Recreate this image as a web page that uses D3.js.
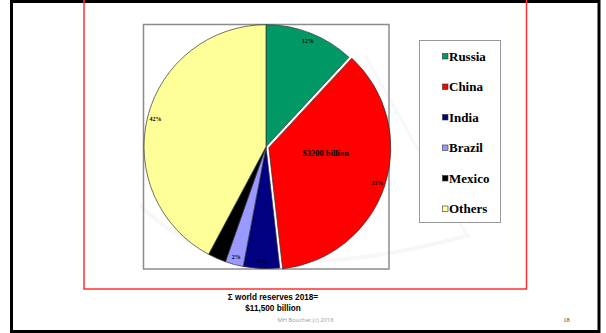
<!DOCTYPE html>
<html><head><meta charset="utf-8">
<script src="https://cdn.jsdelivr.net/npm/d3@7"></script>
<style>html,body{margin:0;padding:0;background:#fff;}svg{display:block;}
.serif{font-family:"Liberation Serif","Times New Roman",Times,serif;}
.sans{font-family:"Liberation Sans",Arial,Helvetica,sans-serif;}
.credit{font-family:"Open Sans","Liberation Sans",sans-serif;}
</style>
</head><body>
<svg id="c" width="606" height="333"></svg>
<script>
const categories = ["Russia", "China", "India", "Brazil", "Mexico", "Others"];
const shares = [11.9, 36.3, 4.8, 2.4, 2.4, 42.2];
const sliceLabels = ["12%", "33%", "5%", "2%", "", "42%"];
const colors = ["#009966", "#ff0000", "#000080", "#9999ff", "#000000", "#ffff99"];
const explodedCategory = "China";
const calloutText = "$3200 billion";
const footerLines = ["\u03A3 world reserves 2018=", "$11,500 billion"];
const creditText = "MH Bouchet (c) 2018";
const pageNumber = "18";

const svg = d3.select("#c");

// slide frame
svg.append("rect").attr("x", 11.5).attr("y", 1.5).attr("width", 587.5).attr("height", 330)
  .attr("fill", "#fff").attr("stroke", "#000").attr("stroke-width", 3);
// red content frame
svg.append("rect").attr("x", 84).attr("y", -10).attr("width", 442.5).attr("height", 299)
  .attr("fill", "none").attr("stroke", "#ff3030").attr("stroke-width", 1.5);

// faint watermark swoosh
svg.append("path").attr("d", "M140,205 Q230,300 470,235")
  .attr("fill", "none").attr("stroke", "#f7f7f7").attr("stroke-width", 4);
svg.append("path").attr("d", "M365,55 L468,238")
  .attr("fill", "none").attr("stroke", "#f8f8f8").attr("stroke-width", 3);

// plot area box
svg.append("rect").attr("x", 143.5).attr("y", 24.5).attr("width", 245.5).attr("height", 244.5)
  .attr("fill", "none").attr("stroke", "#8c8c8c").attr("stroke-width", 1.5);

const cx = 266, cy = 146.7, r = 122;
const data = categories.map((c, i) => ({cat: c, v: shares[i], label: sliceLabels[i], color: colors[i]}));
const pie = d3.pie().value(d => d.v).sort(null);
const arcs = pie(data);
const arc = d3.arc().innerRadius(0).outerRadius(r);
const labelArc = d3.arc().innerRadius(114).outerRadius(114);

const g = svg.append("g").attr("transform", `translate(${cx},${cy})`);
const slices = g.selectAll("g.slice").data(arcs).join("g").attr("class", "slice")
  .attr("transform", d => {
    if (d.data.cat !== explodedCategory) return null;
    const m = (d.startAngle + d.endAngle) / 2;
    return `translate(${Math.sin(m) * 3},${-Math.cos(m) * 3})`;
  });
slices.append("path").attr("d", arc).attr("fill", d => d.data.color)
  .attr("stroke", "#333").attr("stroke-width", 0.7);
slices.append("text").attr("class", "serif").attr("transform", d => `translate(${labelArc.centroid(d)})`)
  .attr("text-anchor", "middle").attr("dy", "0.35em")
  .attr("font-weight", "bold")
  .attr("font-size", 6).attr("fill", "#000").text(d => d.data.label);

// callout in China slice
svg.append("text").attr("class", "serif").attr("x", 325.7).attr("y", 156.3).attr("text-anchor", "middle")
  .attr("font-weight", "bold")
  .attr("font-size", 8.5).attr("fill", "#000").text(calloutText);

// legend
svg.append("rect").attr("x", 419.5).attr("y", 40.5).attr("width", 81).attr("height", 182)
  .attr("fill", "#fff").attr("stroke", "#999").attr("stroke-width", 1);
const ly = d3.scalePoint().domain(categories).range([56, 208.5]);
const lg = svg.append("g").selectAll("g").data(data).join("g")
  .attr("transform", d => `translate(442,${ly(d.cat)})`);
lg.append("rect").attr("x", 0.5).attr("y", -2.5).attr("width", 5.5).attr("height", 5.5)
  .attr("fill", d => d.color).attr("stroke", "#333").attr("stroke-width", 0.6);
lg.append("text").attr("class", "serif").attr("x", 7).attr("y", 4.5)
  .attr("font-weight", "bold")
  .attr("font-size", 13).attr("fill", "#000").text(d => d.cat);

// footer
svg.selectAll("text.foot").data(footerLines).join("text").attr("class", "foot sans")
  .attr("x", 273).attr("y", (d, i) => 299.5 + i * 11.5).attr("text-anchor", "middle")
  .attr("font-weight", "bold")
  .attr("font-size", 8.2).attr("fill", "#000").text(d => d);
svg.append("text").attr("class", "credit").attr("x", 305.5).attr("y", 321.5).attr("text-anchor", "middle")
  .attr("font-size", 5.8).attr("fill", "#999").text(creditText);
svg.append("text").attr("class", "serif").attr("x", 566.5).attr("y", 321.5).attr("text-anchor", "middle")
  .attr("font-size", 6.5).attr("fill", "#444").text(pageNumber);
</script>
</body></html>
